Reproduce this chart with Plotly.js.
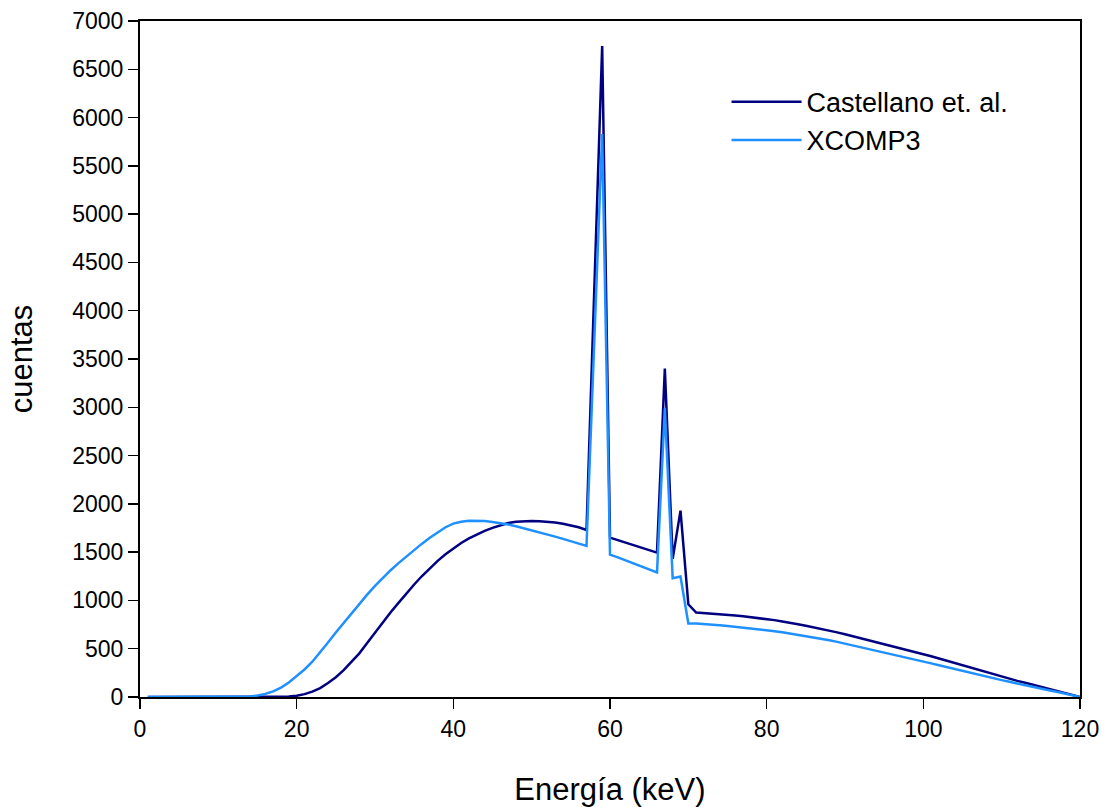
<!DOCTYPE html>
<html>
<head>
<meta charset="utf-8">
<script src="https://cdn.plot.ly/plotly-3.0.1.min.js"></script>
<style>html,body{margin:0;padding:0;background:#fff;}#chart{width:1111px;height:807px;}</style>
</head>
<body>
<div id="chart"></div>
<script>
const energy = [1,2,3,4,5,6,7,8,9,10,11,12,13,14,15,16,17,18,19,20,
  21,22,23,24,25,26,27,28,29,30,31,32,33,34,35,36,37,38,39,40,
  41,42,43,44,45,46,47,48,49,50,51,52,53,54,55,56,57,59,60,
  61,62,63,64,65,66,67,68,69,70,71,72,73,74,75,76,77,78,79,80,
  81,82,83,84,85,86,87,88,89,90,91,92,93,94,95,96,97,98,99,100,
  101,102,103,104,105,106,107,108,109,110,111,112,113,114,115,116,117,118,119,120];

const castellano = [0,0,0,0,0,0,0,0,0,0,0,0,0,0,0,0,0,1,5,13,
  30,55,92,145,205,278,360,452,560,670,778,878,975,1072,1165,1253,1335,1410,1478,1540,
  1595,1643,1685,1720,1752,1780,1801,1814,1821,1823,1821,1816,1807,1794,1777,1757,1730,6740,1650,
  1625,1600,1575,1550,1522,1495,3400,1430,1930,960,875,870,864,858,851,843,835,826,818,808,
  796,782,770,754,738,722,706,688,669,649,629,608,588,568,547,526,506,486,465,445,
  422,398,375,351,327,303,280,256,232,210,188,167,148,128,108,87,66,44,22,0];

const xcomp3 = [0,0,0,0,0,0,0,0,0,0,0,0,1,5,15,32,58,98,150,213,
  285,365,462,565,668,768,867,965,1060,1150,1235,1313,1386,1455,1522,1588,1650,1708,1758,1795,
  1815,1824,1826,1822,1813,1801,1787,1769,1749,1728,1706,1684,1661,1637,1613,1589,1565,5830,1475,
  1445,1415,1385,1355,1322,1290,2990,1230,1248,762,760,757,751,744,736,728,720,712,704,694,
  682,670,657,643,630,617,603,588,571,553,534,515,496,477,458,439,421,403,385,368,
  348,328,308,288,268,248,229,211,193,175,157,138,120,103,86,70,54,37,19,0];

const seriesNames = ["Castellano et. al.", "XCOMP3"];
const xTitle = "Energía (keV)";
const yTitle = "cuentas";

const font = "Liberation Sans, Arial, sans-serif";

const traces = [
  {x: energy, y: castellano, type: "scatter", mode: "lines", name: seriesNames[0],
   line: {color: "#000080", width: 2.5}},
  {x: energy, y: xcomp3, type: "scatter", mode: "lines", name: seriesNames[1],
   line: {color: "#1E90FF", width: 2.5}}
];

const layout = {
  width: 1111, height: 807,
  margin: {l: 140, r: 31, t: 21, b: 110},
  paper_bgcolor: "#fff", plot_bgcolor: "#fff",
  font: {family: font, size: 23, color: "#000"},
  showlegend: true,
  legend: {x: 0.624, xanchor: "left", y: 0.916, yanchor: "top",
    bgcolor: "rgba(0,0,0,0)", font: {family: font, size: 27, color: "#000"},
    itemwidth: 70, tracegroupgap: 0},
  xaxis: {range: [0, 120], dtick: 20, tick0: 0, ticks: "outside", ticklen: 10, tickwidth: 1.5,
    tickcolor: "#000", showline: true, linecolor: "#000", linewidth: 2, mirror: true,
    showgrid: false, zeroline: false, tickfont: {family: font, size: 23},
    title: {text: xTitle, font: {family: font, size: 31}, standoff: 40}},
  yaxis: {range: [0, 7000], dtick: 500, tick0: 0, ticks: "outside", ticklen: 10, tickwidth: 1.5,
    tickcolor: "#000", showline: true, linecolor: "#000", linewidth: 2, mirror: true,
    showgrid: false, zeroline: false, tickfont: {family: font, size: 23},
    title: {text: yTitle, font: {family: font, size: 31}, standoff: 30}}
};

Plotly.newPlot("chart", traces, layout, {staticPlot: true, displayModeBar: false});
</script>
</body>
</html>
